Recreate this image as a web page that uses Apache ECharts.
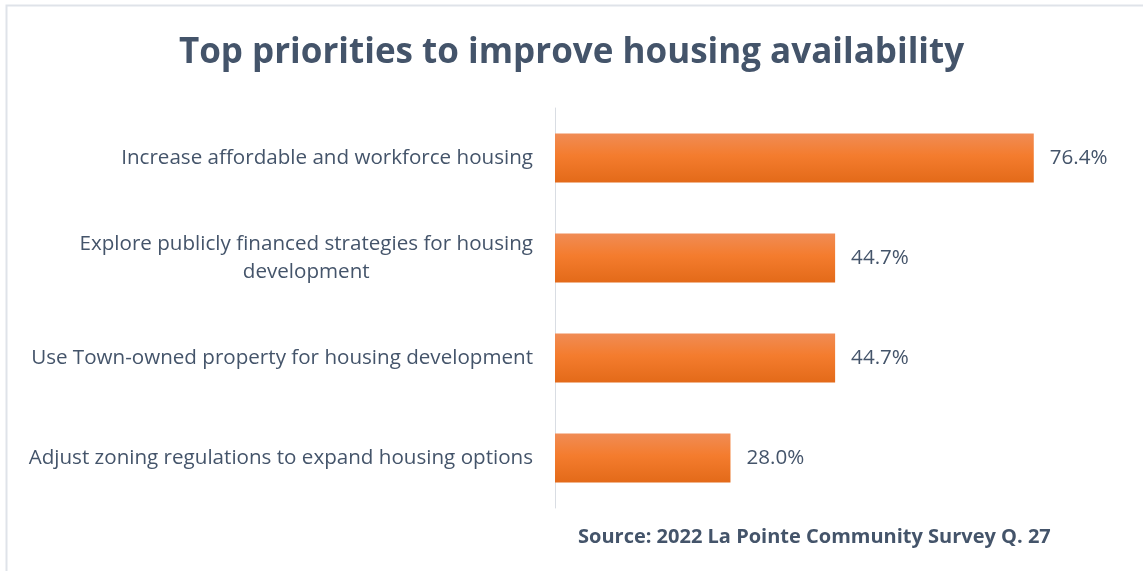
<!DOCTYPE html>
<html>
<head>
<meta charset="utf-8">
<script src="https://cdn.jsdelivr.net/npm/echarts@6/dist/echarts.min.js"></script>
<style>
  html, body { margin: 0; padding: 0; background: #ffffff; }
  #chart { width: 1143px; height: 571px; }
</style>
</head>
<body>
<div id="chart"></div>
<script>
// Survey priorities, listed top to bottom
const categories = [
  'Increase affordable and workforce housing',
  'Explore publicly financed strategies for housing\ndevelopment',
  'Use Town-owned property for housing development',
  'Adjust zoning regulations to expand housing options'
];
const shares = [76.4, 44.7, 44.7, 28.0];

const titleText = 'Top priorities to improve housing availability';
const sourceText = 'Source: 2022 La Pointe Community Survey Q. 27';

const textColor = '#44546A';
const fontFamily = '"Open Sans", "Noto Sans", sans-serif';
const labelSize = 20.6;

const chart = echarts.init(document.getElementById('chart'), null, { renderer: 'canvas' });

chart.setOption({
  backgroundColor: '#ffffff',
  animation: false,
  title: [
    {
      text: titleText,
      left: 'center',
      top: 31,
      textStyle: { color: textColor, fontFamily: fontFamily, fontWeight: 'bold', fontSize: 35 }
    },
    {
      text: sourceText,
      left: 573,
      top: 522,
      textStyle: { color: textColor, fontFamily: fontFamily, fontWeight: 'bold', fontSize: 20 }
    }
  ],
  graphic: [
    {
      type: 'rect',
      shape: { x: 6.5, y: 5.5, width: 1300, height: 700 },
      style: { fill: 'none', stroke: '#dfe3e9', lineWidth: 2 },
      silent: true
    }
  ],
  grid: { left: 555, top: 108, width: 564, height: 400, containLabel: false },
  xAxis: {
    type: 'value',
    min: 0,
    max: 90,
    show: false
  },
  yAxis: {
    type: 'category',
    inverse: true,
    data: categories,
    axisLine: { show: true, lineStyle: { color: '#d9dde3', width: 1 } },
    axisTick: { show: false },
    axisLabel: {
      margin: 22,
      align: 'right',
      color: textColor,
      fontFamily: fontFamily,
      fontSize: labelSize,
      lineHeight: 28,
      formatter: function (v) {
        return v.split('\n').map(function (line) { return '{c|' + line + '}'; }).join('\n');
      },
      rich: {
        c: { align: 'center', color: textColor, fontFamily: fontFamily, fontSize: labelSize, lineHeight: 28 }
      }
    }
  },
  series: [
    {
      type: 'bar',
      data: shares,
      barWidth: 49,
      itemStyle: {
        color: new echarts.graphic.LinearGradient(0, 0, 0, 1, [
          { offset: 0, color: '#F08C55' },
          { offset: 0.45, color: '#F47C2E' },
          { offset: 1, color: '#E36A19' }
        ])
      },
      label: {
        show: true,
        position: 'right',
        distance: 16,
        color: textColor,
        fontFamily: fontFamily,
        fontSize: labelSize,
        formatter: function (p) { return p.value.toFixed(1) + '%'; }
      }
    }
  ]
});
</script>
</body>
</html>
